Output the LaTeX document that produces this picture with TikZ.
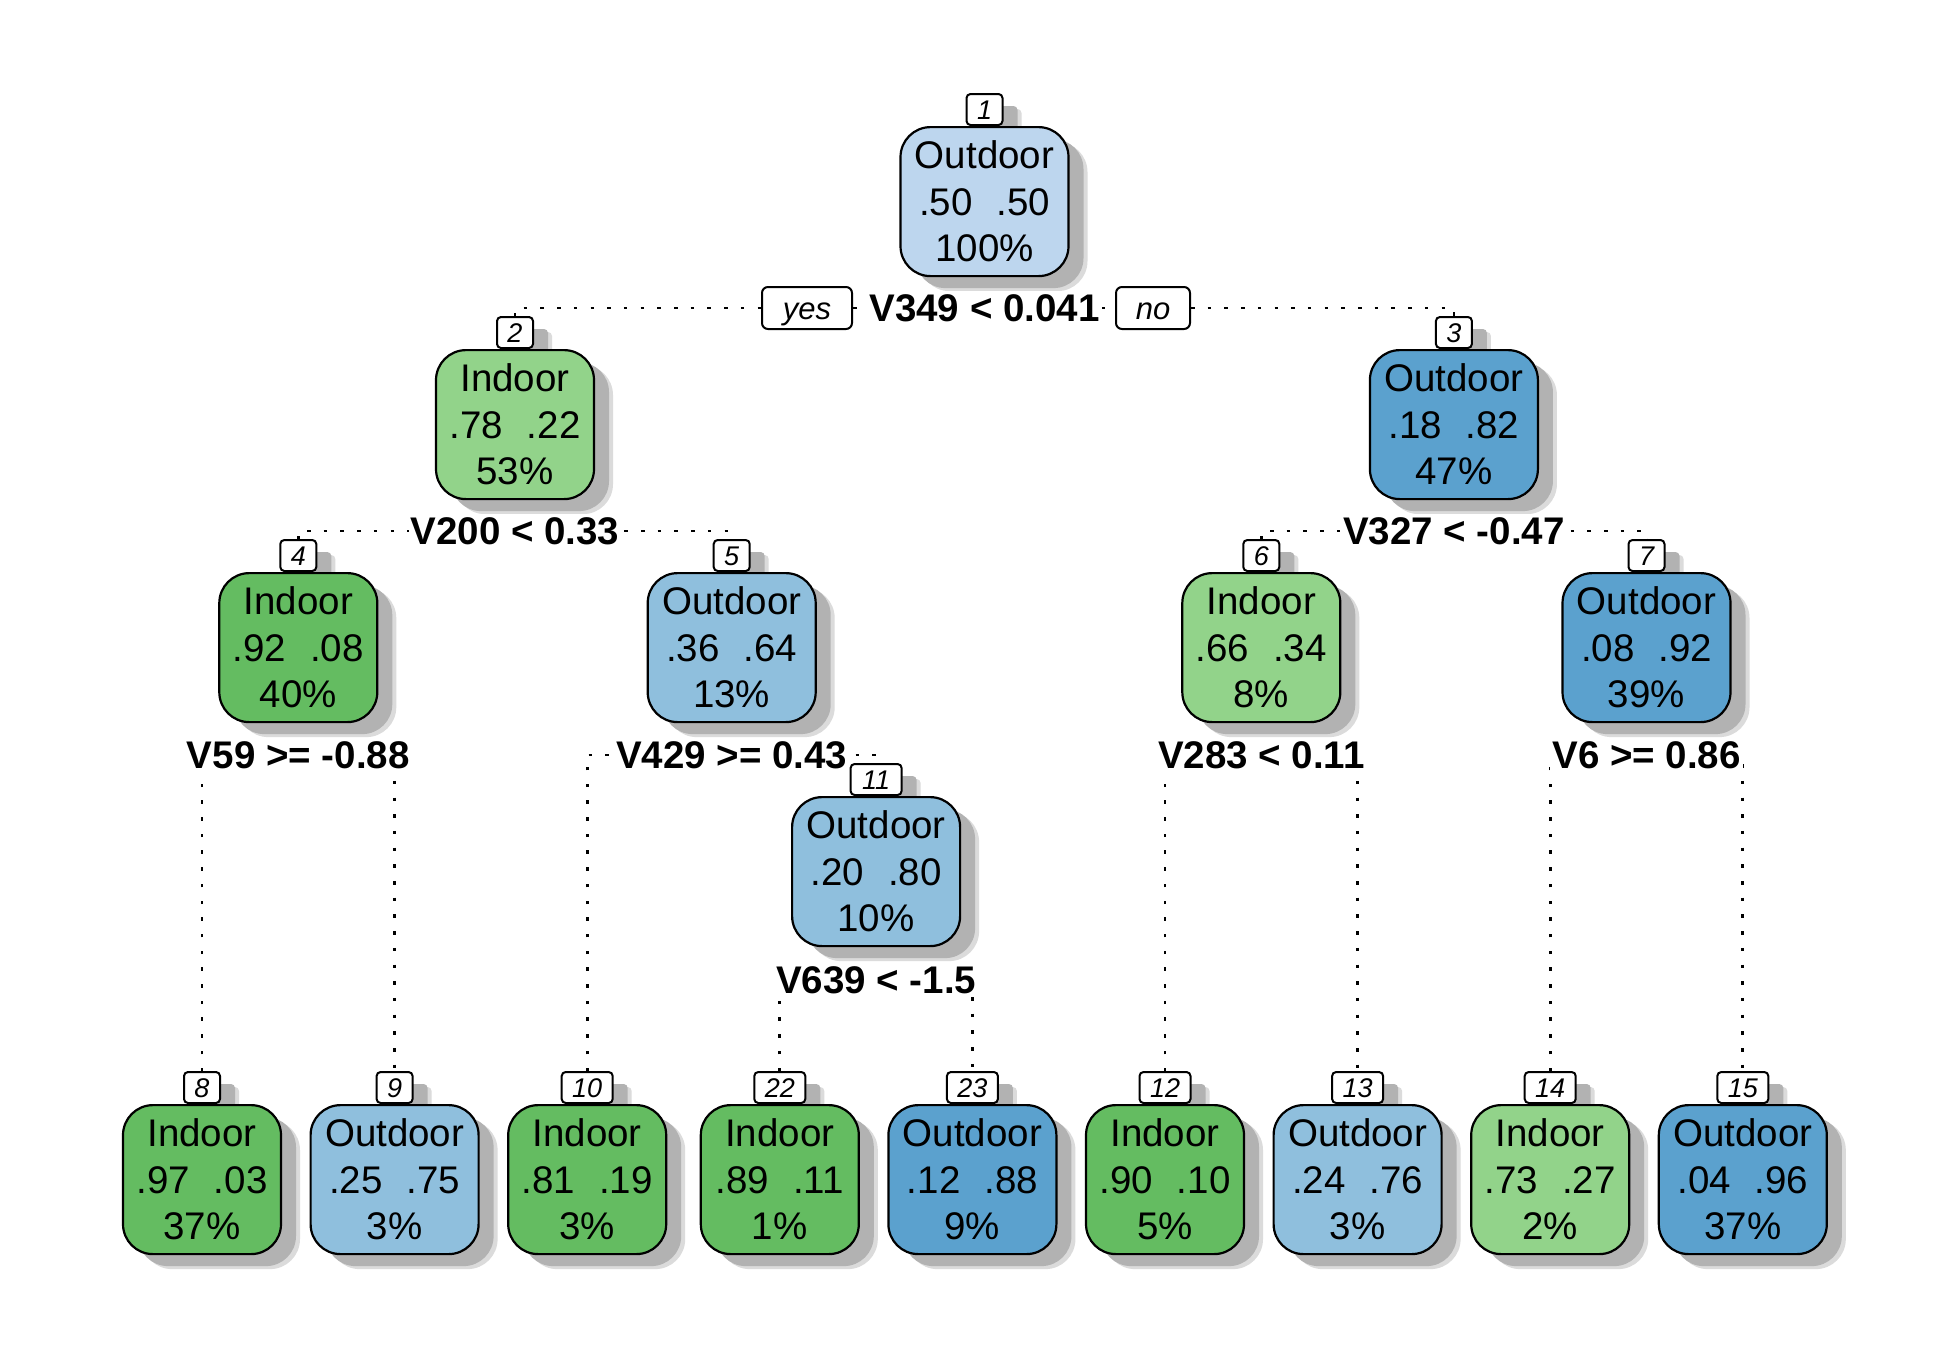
\documentclass[tikz,border=0pt]{standalone}
\usepackage{fontspec}
\setmainfont{Liberation Sans}
\usetikzlibrary{shadows,backgrounds}
\definecolor{cLa}{RGB}{189,214,238}
\definecolor{cBb}{RGB}{143,191,221}
\definecolor{cBc}{RGB}{91,161,206}
\definecolor{cGa}{RGB}{146,211,138}
\definecolor{cGb}{RGB}{100,188,97}
\newcommand\pg{\hspace{0.62em}}
\tikzset{
  shad/.style={
    drop shadow={shadow xshift=19pt, shadow yshift=-15pt, fill=black!14, opacity=1},
    drop shadow={shadow xshift=15pt, shadow yshift=-12pt, fill=black!30, opacity=1}},
  tbox/.style={draw, line width=2.2pt, rounded corners=30pt, minimum height=149pt,
    inner sep=0pt, align=center, font=\fontsize{38.5}{46.5}\selectfont, shad},
  numbox/.style={draw, fill=white, line width=2pt, rounded corners=4pt,
    minimum height=31pt, inner sep=0pt, text height=19pt, text depth=0pt,
    font=\itshape\fontsize{27}{27}\selectfont, shad},
  splitlab/.style={fill=white, inner xsep=2pt, inner ysep=3pt,
    font=\bfseries\fontsize{38.5}{40}\selectfont, text height=27.5pt, text depth=0pt},
  yn/.style={draw, fill=white, line width=2pt, rounded corners=6pt, minimum height=42pt,
    inner sep=0pt, text height=22pt, text depth=0pt, font=\itshape\fontsize{31}{31}\selectfont},
  conn/.style={line width=2.8pt, dash pattern=on 3.5pt off 13.2pt}
}
% name, x, top, colour, width, text, number, number-box width
\newcommand\treenode[8]{%
  \node[numbox, minimum width=#8pt, anchor=south] (#1n) at (#2,#3) {#7};
  \node[tbox, fill=#4, minimum width=#5pt, anchor=north] (#1) at (#2,#3) {#6};
}
\begin{document}
\begin{tikzpicture}[x=1pt,y=-1pt]
\useasboundingbox (0,0) rectangle (1950,1350);
% row 1
\treenode{t1}{984.5}{126}{cLa}{168}{Outdoor\\.50\pg.50\\100\%}{1}{36}
% row 2
\treenode{t2}{515}{349}{cGa}{158}{Indoor\\.78\pg.22\\53\%}{2}{36}
\treenode{t3}{1453.9}{349}{cBc}{168}{Outdoor\\.18\pg.82\\47\%}{3}{36}
% row 3
\treenode{t4}{298.3}{572}{cGb}{158}{Indoor\\.92\pg.08\\40\%}{4}{36}
\treenode{t5}{731.7}{572}{cBb}{168}{Outdoor\\.36\pg.64\\13\%}{5}{36}
\treenode{t6}{1261.3}{572}{cGa}{158}{Indoor\\.66\pg.34\\8\%}{6}{36}
\treenode{t7}{1646.5}{572}{cBc}{168}{Outdoor\\.08\pg.92\\39\%}{7}{36}
% row 4
\treenode{t11}{876.1}{796}{cBb}{168}{Outdoor\\.20\pg.80\\10\%}{11}{51}
% leaves
\treenode{t8}{202}{1104}{cGb}{158}{Indoor\\.97\pg.03\\37\%}{8}{36}
\treenode{t9}{394.6}{1104}{cBb}{168}{Outdoor\\.25\pg.75\\3\%}{9}{36}
\treenode{t10}{587.2}{1104}{cGb}{158}{Indoor\\.81\pg.19\\3\%}{10}{51}
\treenode{t22}{779.8}{1104}{cGb}{158}{Indoor\\.89\pg.11\\1\%}{22}{51}
\treenode{t23}{972.4}{1104}{cBc}{168}{Outdoor\\.12\pg.88\\9\%}{23}{51}
\treenode{t12}{1165}{1104}{cGb}{158}{Indoor\\.90\pg.10\\5\%}{12}{51}
\treenode{t13}{1357.6}{1104}{cBb}{168}{Outdoor\\.24\pg.76\\3\%}{13}{51}
\treenode{t14}{1550.2}{1104}{cGa}{158}{Indoor\\.73\pg.27\\2\%}{14}{51}
\treenode{t15}{1742.8}{1104}{cBc}{168}{Outdoor\\.04\pg.96\\37\%}{15}{51}
% split labels
\node[splitlab] (l1) at (984.5,308) {V349 < 0.041};
\node[yn, minimum width=90pt] (yes) at (807,308) {yes};
\node[yn, minimum width=74pt] (no) at (1153,308) {no};
\node[splitlab] (l2) at (515,531) {V200 < 0.33};
\node[splitlab] (l3) at (1453.9,531) {V327 < -0.47};
\node[splitlab] (l4) at (298.3,755) {V59 >= -0.88};
\node[splitlab] (l5) at (731.7,755) {V429 >= 0.43};
\node[splitlab] (l6) at (1261.3,755) {V283 < 0.11};
\node[splitlab] (l7) at (1646.5,755) {V6 >= 0.86};
\node[splitlab] (l11) at (876.1,980) {V639 < -1.5};
% connectors
\begin{scope}[on background layer]
\fill[white] (0,0) rectangle (1950,1350);
\draw[conn] (t2n.north) |- (yes.west);
\draw[conn] (yes.east) -- (l1.west);
\draw[conn] (l1.east) -- (no.west);
\draw[conn] (no.east) -| (t3n.north);
\draw[conn] (t4n.north) |- (l2.center) -| (t5n.north);
\draw[conn] (t6n.north) |- (l3.center) -| (t7n.north);
\draw[conn] (t8n.north) |- (l4.center) -| (t9n.north);
\draw[conn] (t10n.north) |- (l5.center) -| (t11n.north);
\draw[conn] (t12n.north) |- (l6.center) -| (t13n.north);
\draw[conn] (t14n.north) |- (l7.center) -| (t15n.north);
\draw[conn] (t22n.north) |- (l11.center) -| (t23n.north);
\end{scope}
\end{tikzpicture}
\end{document}
